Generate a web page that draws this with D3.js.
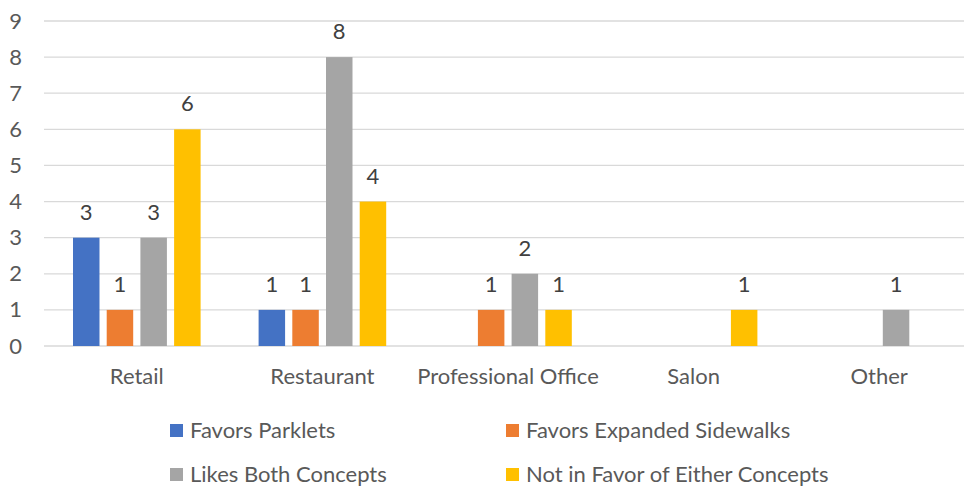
<!DOCTYPE html>
<html lang="en">
<head>
<meta charset="utf-8"/>
<title>Business survey - parklets vs sidewalks</title>
<script src="https://d3js.org/d3.v7.min.js"></script>
<style>
  body { margin: 0; background: #fff; }
  text { font-family: Lato, "Open Sans", sans-serif; }
</style>
</head>
<body>
<script>
// chart data
var categories = ["Retail", "Restaurant", "Professional Office", "Salon", "Other"];
var seriesNames = ["Favors Parklets", "Favors Expanded Sidewalks", "Likes Both Concepts", "Not in Favor of Either Concepts"];
var parklets   = [3, 1, null, null, null];
var sidewalks  = [1, 1, 1, null, null];
var bothLiked  = [3, 8, 2, null, 1];
var neither    = [6, 4, 1, 1, null];
var yTicks = [0, 1, 2, 3, 4, 5, 6, 7, 8, 9];
var colors = ["#4472C4", "#ED7D31", "#A5A5A5", "#FFC000"];

var allSeries = [parklets, sidewalks, bothLiked, neither];

var w = 964, h = 489;
var plotLeft = 44, plotRight = 972, plotTop = 21, plotBottom = 346;
var fontSize = "22px";

var svg = d3.select("body").append("svg")
    .attr("width", w)
    .attr("height", h);

var x0 = d3.scaleBand().domain(categories).range([plotLeft, plotRight]).padding(0);
var groupPad = 29;
var x1 = d3.scaleBand().domain(d3.range(seriesNames.length))
    .range([groupPad, x0.bandwidth() - groupPad])
    .paddingInner(0.214);
var y = d3.scaleLinear().domain([0, 9]).range([plotBottom, plotTop]);

// gridlines
svg.append("g")
  .selectAll("line")
  .data(yTicks)
  .enter().append("line")
    .attr("x1", plotLeft)
    .attr("x2", w)
    .attr("y1", function(d) { return y(d); })
    .attr("y2", function(d) { return y(d); })
    .style("stroke", "#D9D9D9")
    .style("stroke-width", 1.3);

// y axis labels
var yAxis = d3.axisLeft(y).tickValues(yTicks).tickSize(0).tickPadding(0);
var ya = svg.append("g")
    .attr("transform", "translate(22,0)")
    .call(yAxis);
ya.select(".domain").remove();
ya.selectAll("text")
    .style("font-family", "Lato, sans-serif")
    .style("font-size", fontSize)
    .style("fill", "#595959");

// category labels
var xAxis = d3.axisBottom(x0).tickSize(0).tickPadding(0);
var xa = svg.append("g")
    .attr("transform", "translate(0,368)")
    .call(xAxis);
xa.select(".domain").remove();
xa.selectAll("text")
    .attr("dy", "0.71em")
    .style("font-family", "Lato, sans-serif")
    .style("font-size", fontSize)
    .style("fill", "#595959");

// flatten values for bars
var bars = [];
allSeries.forEach(function(vals, s) {
  vals.forEach(function(v, c) {
    if (v) bars.push({cat: categories[c], s: s, v: v});
  });
});

svg.append("g")
  .selectAll("rect")
  .data(bars)
  .enter().append("rect")
    .attr("x", function(d) { return x0(d.cat) + x1(d.s); })
    .attr("width", x1.bandwidth())
    .attr("y", function(d) { return y(d.v); })
    .attr("height", function(d) { return y(0) - y(d.v); })
    .style("fill", function(d) { return colors[d.s]; });

// value labels
svg.append("g")
  .selectAll("text")
  .data(bars)
  .enter().append("text")
    .attr("x", function(d) { return x0(d.cat) + x1(d.s) + x1.bandwidth() / 2; })
    .attr("y", function(d) { return y(d.v) - 18; })
    .attr("text-anchor", "middle")
    .style("font-size", fontSize)
    .style("fill", "#404040")
    .text(function(d) { return d.v; });

// legend, two columns
var legendX = [170, 506];
var legendY = [430.5, 474.5];
var legend = svg.append("g")
  .selectAll("g")
  .data(seriesNames)
  .enter().append("g")
    .attr("transform", function(d, i) {
      return "translate(" + legendX[i % 2] + "," + legendY[Math.floor(i / 2)] + ")";
    });

legend.append("rect")
    .attr("x", 0)
    .attr("y", -6.5)
    .attr("width", 13)
    .attr("height", 13)
    .style("fill", function(d, i) { return colors[i]; });

legend.append("text")
    .attr("x", 20)
    .attr("y", 7)
    .style("font-size", fontSize)
    .style("fill", "#595959")
    .text(function(d) { return d; });
</script>
</body>
</html>
